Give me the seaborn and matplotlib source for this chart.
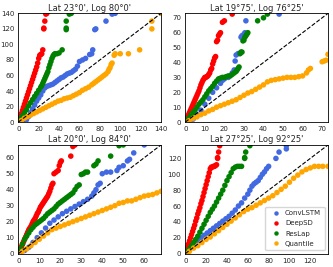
import matplotlib
matplotlib.use("Agg")
import matplotlib.pyplot as plt
import seaborn as sns
import pandas as pd

sns.set_style("white")
plt.rcParams['font.family'] = ['DejaVu Sans']

titles = ["Lat 23°0', Log 80°0'", "Lat 19°75', Log 76°25'",
          "Lat 20°0', Log 84°0'", "Lat 27°25', Log 92°25'"]
limits = [140, 73, 68, 137]
tick_steps = [20, 10, 10, 20]
models = ["ConvLSTM", "DeepSD", "ResLap", "Quantile"]
colors = ["royalblue", "red", "green", "orange"]

# Panel 1
p1_conv = [(5, 0), (8, 3), (10, 7), (12, 12), (14, 17), (16, 22), (18, 27), (20, 31), (22, 35), (24, 40),
           (26, 44), (28, 46), (30, 47), (32, 48), (34, 49), (36, 51), (38, 53), (40, 55), (42, 57), (44, 58),
           (46, 60), (48, 62), (50, 63), (52, 64), (54, 66), (56, 68), (58, 72), (60, 78), (63, 80), (66, 82),
           (70, 87), (72, 88), (73, 93), (75, 119), (76, 120), (86, 130), (92, 139), (95, 140)]
p1_deep = [(0, 0), (1, 3), (2, 7), (3, 11), (4, 15), (5, 19), (6, 23), (7, 27), (8, 31), (9, 35), (10, 39),
           (11, 43), (12, 47), (13, 51), (14, 55), (15, 59), (16, 63), (17, 67), (18, 71), (19, 76), (20, 82),
           (21, 86), (22, 87), (23, 88), (24, 93), (25, 120), (25, 121), (26, 130), (27, 139), (28, 140)]
p1_res = [(0, 0), (2, 4), (4, 8), (6, 12), (8, 16), (10, 21), (12, 25), (14, 29), (16, 33), (18, 37), (20, 41),
          (22, 45), (23, 47), (24, 50), (25, 53), (26, 56), (27, 59), (28, 62), (29, 65), (30, 70), (31, 74),
          (32, 78), (33, 82), (34, 85), (35, 87), (36, 88), (38, 88), (40, 89), (43, 93), (47, 119), (47, 121),
          (47, 130), (50, 139), (52, 140)]
p1_quan = [(0, 0), (3, 2), (6, 5), (9, 7), (12, 9), (15, 11), (18, 13), (21, 15), (24, 17), (27, 19), (30, 21),
           (33, 23), (36, 25), (39, 27), (42, 28), (45, 30), (48, 31), (51, 32), (54, 34), (57, 36), (60, 38),
           (63, 41), (66, 43), (69, 45), (72, 48), (74, 50), (76, 52), (78, 54), (80, 56), (82, 58), (84, 60),
           (86, 62), (88, 65), (89, 68), (90, 70), (91, 74), (92, 76), (94, 86), (95, 88), (100, 88), (108, 88),
           (119, 93), (131, 120), (131, 130), (140, 140)]

# Panel 2
p2_conv = [(2, 0), (4, 2), (6, 5), (8, 8), (10, 12), (12, 16), (14, 20), (16, 23), (18, 26), (19, 28), (20, 29),
           (22, 30), (24, 33), (25, 35), (25.5, 41), (26, 45), (27, 46), (28, 46), (28.5, 57), (29, 58), (30, 59),
           (30.5, 60), (31, 68), (48, 72.5)]
p2_deep = [(0, 0), (0.5, 1.5), (1, 3), (1.5, 4.5), (2, 6), (2.5, 7.5), (3, 9), (3.5, 10.5), (4, 12), (4.5, 13.5),
           (5, 15), (5.5, 16.5), (6, 18), (6.5, 19.5), (7, 21), (7.5, 23), (8, 25), (8.5, 26.5), (9, 28),
           (9.5, 29), (10, 30), (10.5, 30), (11, 30.5), (11.5, 31), (12, 32), (12.5, 33), (13, 35), (13.5, 36),
           (14, 39), (14.5, 41), (15, 43), (15.5, 44), (16, 54), (16.5, 55), (17, 58), (17.5, 59), (18, 60),
           (19, 67), (20, 68), (24, 72.5)]
p2_res = [(0, 0), (1, 1.5), (2, 3), (3, 5), (4, 6.5), (5, 8), (6, 10), (7, 12), (8, 13.5), (9, 15), (10, 17),
          (11, 19), (12, 21), (13, 22.5), (14, 24), (15, 26), (16, 27.5), (17, 29), (18, 29.5), (19, 30),
          (20, 30), (21, 30.5), (22, 31), (23, 31), (24, 32), (25, 33), (26, 34), (26.5, 35), (27, 36),
          (27.5, 37), (28, 46), (28.5, 47), (29, 47), (29.5, 54.5), (30, 55), (30.5, 57), (31, 58), (31.5, 59),
          (32, 60), (37, 68), (40, 70), (42, 72.5)]
p2_quan = [(0, 0), (2, 1), (4, 2.5), (6, 3.5), (8, 5), (10, 6), (12, 7.5), (14, 8.5), (16, 10), (18, 11),
           (20, 12), (22, 13), (24, 14), (26, 15), (28, 16.5), (30, 18), (32, 19.5), (34, 20.5), (36, 22),
           (38, 23.5), (40, 25), (42, 27), (44, 28), (46, 28.5), (48, 29), (50, 29.5), (52, 30), (54, 30),
           (56, 30), (58, 30.5), (60, 31), (62, 33), (63, 35), (64, 36), (70, 40.5), (71, 41), (72, 41.5),
           (73, 45.5)]

# Panel 3
p3_conv = [(1, 0), (3, 2), (5, 4), (7, 7), (9, 10), (11, 13), (13, 16), (15, 19), (17, 21), (19, 23), (21, 25),
           (23, 26.5), (25, 28), (27, 29.5), (29, 31), (31, 32.5), (33, 34), (35, 36), (36, 38), (37, 40),
           (38, 43), (39, 44), (40, 50), (42, 51), (44, 51), (47, 52), (48, 54), (50, 55), (52, 58), (53, 59),
           (55, 63), (60, 68)]
p3_deep = [(0, 0), (0.5, 1.5), (1, 3), (1.5, 4.5), (2, 6), (2.5, 7.5), (3, 9), (3.5, 10.5), (4, 12),
           (4.5, 13.5), (5, 15), (5.5, 16), (6, 17), (6.5, 18.5), (7, 20), (7.5, 21), (8, 22), (8.5, 23.5),
           (9, 25), (9.5, 26), (10, 27.5), (10.5, 29), (11, 30), (11.5, 31), (12, 32), (12.5, 33), (13, 34),
           (13.5, 35), (14, 36), (14.5, 37.5), (15, 39), (15.5, 41), (16, 43), (16.5, 44), (17, 50), (18, 51),
           (19, 52), (19.5, 55), (20, 57), (20.5, 58), (25, 61), (26, 67), (27, 68)]
p3_res = [(0, 0), (1, 3), (2, 6), (3, 9), (4, 11), (5, 13), (6, 15), (7, 16.5), (8, 18), (9, 19), (10, 20),
          (11, 21), (12, 22), (13, 23.5), (14, 25), (15, 26), (16, 27), (17, 28), (18, 29.5), (19, 31), (20, 32),
          (21, 33), (22, 34), (23, 35), (24, 36), (25, 37), (26, 38), (27, 40), (28, 42), (29, 43), (30, 49.5),
          (31, 50), (32, 51), (33, 51), (36, 55), (37, 56), (38, 58), (44, 61), (48, 67.5), (50, 68)]
p3_quan = [(0, 0), (2, 1.5), (4, 3), (6, 5), (8, 7), (10, 9), (12, 11), (14, 13), (16, 15), (18, 16), (20, 17),
           (22, 18), (24, 19), (26, 20), (28, 21), (30, 22), (32, 23), (34, 24), (36, 25), (38, 26), (40, 27),
           (42, 28), (44, 29), (46, 30), (48, 31.5), (50, 32), (52, 33), (54, 33), (56, 34), (58, 35), (60, 36),
           (62, 36.5), (64, 37), (66, 38), (68, 39)]

# Panel 4
p4_conv = [(0, 5), (3, 8), (6, 11), (9, 14), (12, 17), (15, 20), (18, 23), (21, 26), (24, 29), (27, 32),
           (30, 35), (33, 38), (36, 41), (39, 44), (42, 47), (45, 51), (48, 55), (51, 60), (54, 64), (57, 70),
           (60, 75), (62, 80), (64, 85), (66, 88), (68, 90), (70, 92), (72, 96), (74, 100), (76, 103), (78, 107),
           (80, 110), (87, 120), (90, 128), (97, 132), (97, 136)]
p4_deep = [(0, 0), (1, 4), (2, 8), (3, 12), (4, 16), (5, 20), (6, 24), (7, 28), (8, 32), (9, 36), (10, 41),
           (11, 45), (12, 50), (13, 54), (14, 58), (15, 63), (16, 67), (17, 72), (18, 77), (19, 82), (20, 87),
           (21, 92), (22, 97), (23, 102), (24, 107), (25, 109), (26, 109), (27, 110), (28, 110), (29, 111),
           (30, 112), (31, 120), (31, 121), (32, 128), (33, 136)]
p4_res = [(0, 0), (2, 3), (4, 6), (6, 10), (8, 14), (10, 18), (12, 22), (14, 27), (16, 32), (18, 37), (20, 42),
          (22, 47), (24, 52), (26, 56), (28, 60), (30, 65), (32, 70), (34, 75), (36, 80), (38, 86), (40, 92),
          (42, 97), (44, 102), (46, 107), (48, 109), (50, 110), (52, 110), (54, 110), (57, 120), (57, 121),
          (58, 128), (62, 136)]
p4_quan = [(0, 0), (4, 3), (8, 7), (12, 10), (16, 14), (20, 18), (24, 21), (28, 25), (32, 29), (36, 33),
           (40, 37), (44, 41), (48, 45), (52, 49), (56, 53), (60, 56), (64, 58), (68, 61), (72, 64), (76, 67),
           (80, 70), (84, 73), (88, 77), (92, 81), (96, 85), (100, 90), (104, 95), (108, 99), (112, 103),
           (116, 106), (120, 108), (124, 110), (128, 110), (132, 110), (137, 110)]

panels = [
    [p1_conv, p1_deep, p1_res, p1_quan],
    [p2_conv, p2_deep, p2_res, p2_quan],
    [p3_conv, p3_deep, p3_res, p3_quan],
    [p4_conv, p4_deep, p4_res, p4_quan],
]

fig, axes = plt.subplots(2, 2, figsize=(3.33, 2.67), dpi=100)
fig.subplots_adjust(left=0.055, right=0.985, top=0.95, bottom=0.05, wspace=0.17, hspace=0.21)

for i, ax in enumerate(axes.flat):
    rows = []
    for m, pts in zip(models, panels[i]):
        for x, y in pts:
            rows.append({"obs": x, "pred": y, "model": m})
    df = pd.DataFrame(rows)
    lim = limits[i]
    sns.scatterplot(data=df, x="obs", y="pred", hue="model", hue_order=models,
                    palette=colors, s=16, linewidth=0, ax=ax, legend=(i == 3))
    ax.plot([0, lim], [0, lim], "k--", lw=0.8, zorder=5)
    ax.set_xlim(0, lim)
    ax.set_ylim(0, lim)
    ax.set_xticks(range(0, lim + 1, tick_steps[i]))
    ax.set_yticks(range(0, lim + 1, tick_steps[i]))
    ax.tick_params(labelsize=5, length=2, pad=1)
    ax.set_xlabel("")
    ax.set_ylabel("")
    ax.set_title(titles[i], fontsize=6, pad=2)
    for sp in ax.spines.values():
        sp.set_color("black")
        sp.set_linewidth(0.6)
    if i == 3:
        ax.legend(loc="lower right", fontsize=5, markerscale=0.8, handletextpad=0.3,
                  borderpad=0.5, labelspacing=0.6, frameon=True)

fig.savefig("out.png", dpi=100)
